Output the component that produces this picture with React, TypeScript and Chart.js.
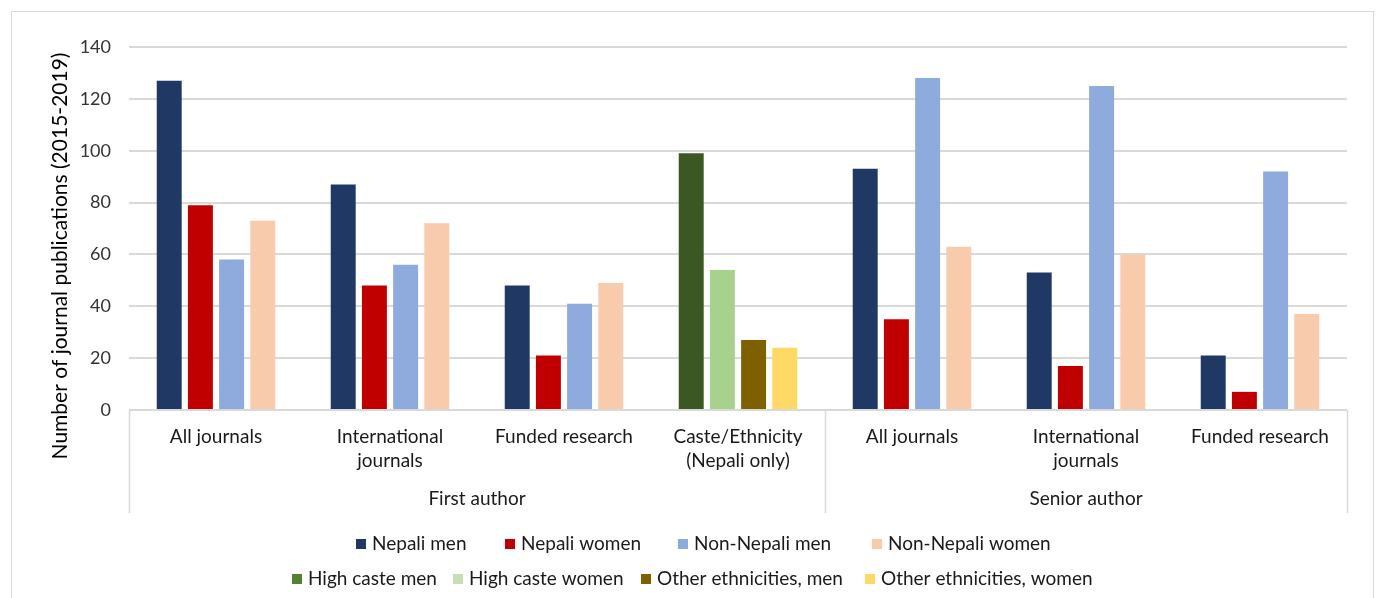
import React, { useEffect, useRef } from "react";
import { Chart, registerables } from "chart.js";

Chart.register(...registerables);

// ---------- data ----------
const categoryLabels: string[][] = [
  ["All journals"],
  ["International", "journals"],
  ["Funded research"],
  ["Caste/Ethnicity", "(Nepali only)"],
  ["All journals"],
  ["International", "journals"],
  ["Funded research"],
];
const groupLabels = ["First author", "Senior author"];
const groupSpans = [4, 3];

const nepaliMen = [127, 87, 48, null, 93, 53, 21];
const nepaliWomen = [79, 48, 21, null, 35, 17, 7];
const nonNepaliMen = [58, 56, 41, null, 128, 125, 92];
const nonNepaliWomen = [73, 72, 49, null, 63, 60, 37];
const highCasteMen = [null, null, null, 99, null, null, null];
const highCasteWomen = [null, null, null, 54, null, null, null];
const otherEthMen = [null, null, null, 27, null, null, null];
const otherEthWomen = [null, null, null, 24, null, null, null];

const seriesNames = [
  "Nepali men",
  "Nepali women",
  "Non-Nepali men",
  "Non-Nepali women",
  "High caste men",
  "High caste women",
  "Other ethnicities, men",
  "Other ethnicities, women",
];
const seriesValues = [
  nepaliMen,
  nepaliWomen,
  nonNepaliMen,
  nonNepaliWomen,
  highCasteMen,
  highCasteWomen,
  otherEthMen,
  otherEthWomen,
];

const yTickValues = [0, 20, 40, 60, 80, 100, 120, 140];
const yAxisTitle = "Number of journal publications (2015-2019)";

// ---------- styles ----------
const barColors = [
  "#203864",
  "#C00000",
  "#8FAADC",
  "#F8CBAD",
  "#3B5724",
  "#A9D18E",
  "#7F6000",
  "#FFD966",
];
const legendColors = [
  "#203864",
  "#C00000",
  "#8FAADC",
  "#F8CBAD",
  "#548235",
  "#C5E0B4",
  "#7F6000",
  "#FFD966",
];
const FONT = "Lato, 'Open Sans', sans-serif";
const LABEL_SIZE = 19;
const TICK_SIZE = 18;
const TITLE_SIZE = 21;
const TEXT_COLOR = "#1a1a1a";
const GRID_COLOR = "#d9d9d9";

// legend layout (two rows of four)
const legendRows = [
  { y: 544, boxX: [356, 505, 678, 872] },
  { y: 579, boxX: [292, 453, 641, 865] },
];

const overlayPlugin = {
  id: "overlay",
  afterDraw(chart: any) {
    const ctx: CanvasRenderingContext2D = chart.ctx;
    const area = chart.chartArea;
    const xScale = chart.scales.x;
    ctx.save();

    // outer chart border
    ctx.strokeStyle = GRID_COLOR;
    ctx.lineWidth = 1;
    ctx.strokeRect(11.5, 11.5, 1362, 620);

    // category labels
    ctx.fillStyle = TEXT_COLOR;
    ctx.font = `${LABEL_SIZE}px ${FONT}`;
    ctx.textAlign = "center";
    ctx.textBaseline = "middle";
    categoryLabels.forEach((lines, i) => {
      const x = xScale.getPixelForValue(i);
      lines.forEach((ln, j) => {
        ctx.fillText(ln, x, area.bottom + 27 + j * 24);
      });
    });

    // group separators and group labels
    const catW = (area.right - area.left) / categoryLabels.length;
    ctx.strokeStyle = GRID_COLOR;
    ctx.lineWidth = 1.5;
    let start = 0;
    const bounds: number[] = [area.left];
    groupSpans.forEach((span, g) => {
      const x0 = area.left + start * catW;
      const x1 = area.left + (start + span) * catW;
      bounds.push(x1);
      ctx.fillText(groupLabels[g], (x0 + x1) / 2, area.bottom + 89);
      start += span;
    });
    bounds.forEach((bx) => {
      const px = Math.round(bx) + 0.5;
      ctx.beginPath();
      ctx.moveTo(px, area.bottom);
      ctx.lineTo(px, area.bottom + 103);
      ctx.stroke();
    });

    // y axis title
    ctx.save();
    ctx.translate(60, 256);
    ctx.rotate(-Math.PI / 2);
    ctx.fillStyle = "#000000";
    ctx.font = `${TITLE_SIZE}px ${FONT}`;
    ctx.fillText(yAxisTitle, 0, 0);
    ctx.restore();

    // legend
    ctx.font = `${LABEL_SIZE}px ${FONT}`;
    ctx.textAlign = "left";
    ctx.textBaseline = "middle";
    legendRows.forEach((row, r) => {
      row.boxX.forEach((bx, k) => {
        const idx = r * 4 + k;
        ctx.fillStyle = legendColors[idx];
        ctx.fillRect(bx, row.y - 5, 10, 10);
        ctx.fillStyle = TEXT_COLOR;
        ctx.fillText(seriesNames[idx], bx + 16, row.y);
      });
    });

    ctx.restore();
  },
};

export default function App() {
  const canvasRef = useRef<HTMLCanvasElement | null>(null);

  useEffect(() => {
    if (!canvasRef.current) return;
    const chart = new Chart(canvasRef.current, {
      type: "bar",
      data: {
        labels: categoryLabels.map((l) => l.join(" ")),
        datasets: seriesNames.map((name, i) => ({
          label: name,
          data: seriesValues[i] as any,
          backgroundColor: barColors[i],
          borderWidth: 0,
          skipNull: true,
          categoryPercentage: 0.717,
          barPercentage: 0.8,
        })),
      },
      options: {
        responsive: false,
        maintainAspectRatio: false,
        animation: false,
        devicePixelRatio: 1,
        layout: { padding: { left: 0, right: 33, top: 47, bottom: 0 } },
        plugins: {
          legend: { display: false },
          tooltip: { enabled: false },
          title: { display: false },
        },
        scales: {
          x: {
            grid: { display: false },
            border: { display: false },
            ticks: { display: false },
            afterFit: (s: any) => {
              s.height = 188;
            },
          },
          y: {
            min: 0,
            max: 140,
            afterBuildTicks: (axis: any) => {
              axis.ticks = yTickValues.map((v) => ({ value: v }));
            },
            ticks: {
              padding: 18,
              color: "#333333",
              font: { family: FONT, size: TICK_SIZE },
            },
            grid: { color: GRID_COLOR, lineWidth: 2, drawTicks: false },
            border: { display: false },
            afterFit: (s: any) => {
              s.width = 129;
            },
          },
        },
      },
      plugins: [overlayPlugin],
    });
    return () => chart.destroy();
  }, []);

  return (
    <div
      style={{
        position: "absolute",
        left: 0,
        top: 0,
        width: 1380,
        height: 598,
        background: "#ffffff",
        overflow: "hidden",
      }}
    >
      <canvas
        ref={canvasRef}
        width={1380}
        height={598}
        style={{ display: "block", width: 1380, height: 598 }}
      />
    </div>
  );
}
